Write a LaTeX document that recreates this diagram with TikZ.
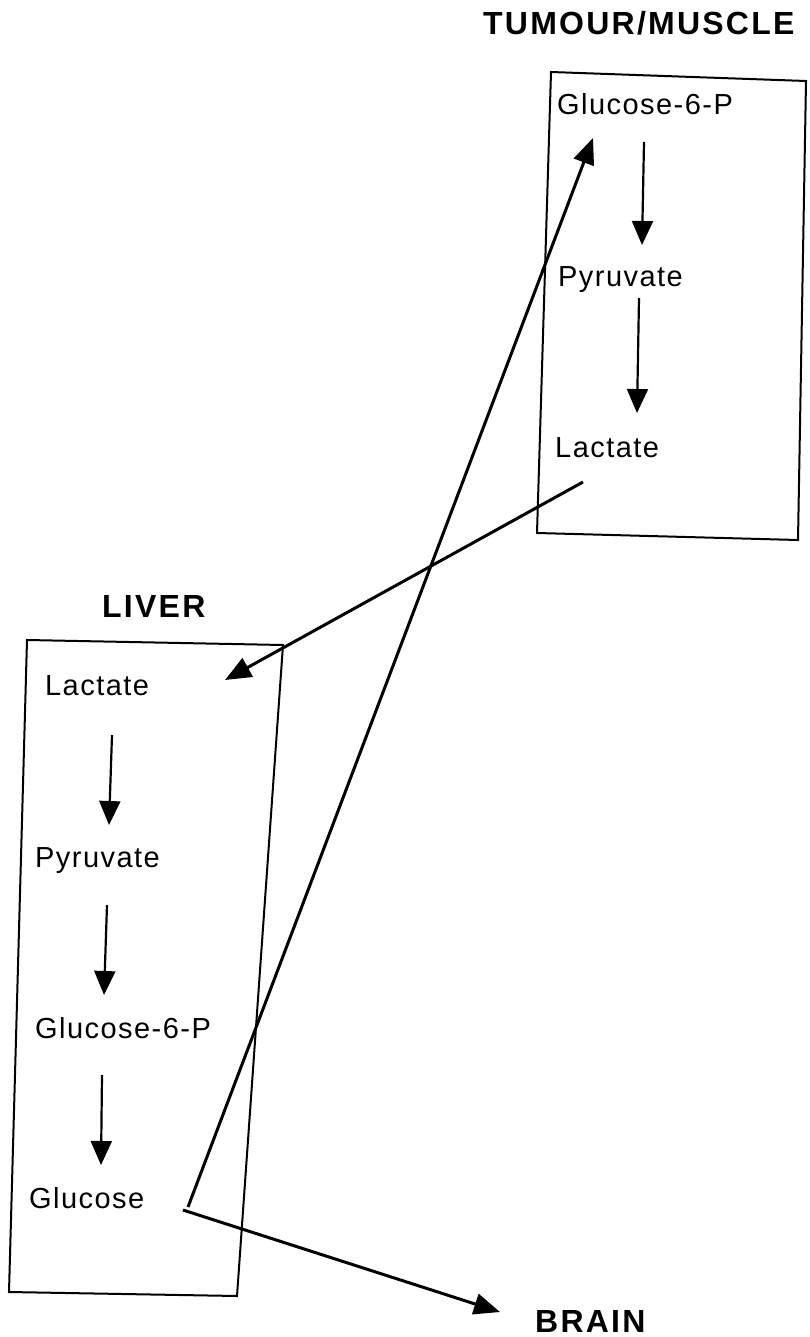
\documentclass[tikz,border=0pt]{standalone}
\usepackage{fontspec}
\setmainfont{Liberation Sans}
\newfontfamily\metabfont[LetterSpace=5]{Liberation Sans}
\newfontfamily\organfont[LetterSpace=7,BoldFont={Liberation Sans Bold}]{Liberation Sans}
\usepackage{tikz}
\usetikzlibrary{arrows.meta,positioning,calc}
\tikzset{
  metab/.style={anchor=base west, inner sep=0pt, font=\metabfont\fontsize{29}{32}\selectfont},
  organ/.style={anchor=base west, inner sep=0pt, font=\organfont\bfseries\fontsize{32}{35}\selectfont},
  conv/.style={line width=2.2pt, -{Triangle[width=21pt,length=24pt]}},
  transport/.style={line width=3pt, -{Triangle[width=21pt,length=26pt]}},
  compartment/.style={line width=2pt, line join=miter}
}

\begin{document}
\begin{tikzpicture}[x=1pt,y=-1pt]
    \useasboundingbox (0,0) rectangle (810,1337);
    % compartments
    \draw[compartment] (551,72) -- (806,81) -- (798,540) -- (537,533) -- cycle;
    \draw[compartment] (27,640) -- (283,645) -- (237,1296) -- (9,1292) -- cycle;
    % organ names
    \node[organ] (tumour) at (483,35) {TUMOUR/MUSCLE};
    \node[organ] (liver) at (102,617) {LIVER};
    \node[organ] (brain) at (535,1332) {BRAIN};
    % tumour/muscle
    \node[metab] (tg6p) at (557,115) {Glucose-6-P};
    \node[metab] (tpyr) at (558,287) {Pyruvate};
    \node[metab] (tlac) at (555,457) {Lactate};
    % liver
    \node[metab] (llac) at (45,695) {Lactate};
    \node[metab] (lpyr) at (35,867) {Pyruvate};
    \node[metab] (lg6p) at (35,1038) {Glucose-6-P};
    \node[metab] (lglc) at (29,1208) {Glucose};
    % glycolysis
    \draw[conv] ($(tg6p.base west)+(87,27)$) -- ($(tpyr.base west)+(84,-42)$);
    \draw[conv] ($(tpyr.base west)+(81,11)$) -- ($(tlac.base west)+(82,-44)$);
    % gluconeogenesis
    \draw[conv] ($(llac.base west)+(67,40)$) -- ($(lpyr.base west)+(74,-42)$);
    \draw[conv] ($(lpyr.base west)+(72,38)$) -- ($(lg6p.base west)+(69,-43)$);
    \draw[conv] ($(lg6p.base west)+(67,37)$) -- ($(lglc.base west)+(72,-43)$);
    % Cori cycle
    \draw[transport] ($(tlac.base west)+(28,25)$) -- ($(llac.base west)+(180,-15)$);
    \draw[transport] ($(lglc.base west)+(159,-1)$) -- ($(tg6p.base west)+(36,23)$);
    \draw[transport] ($(lglc.base west)+(154,2)$) -- ($(brain.base west)+(-35,-20)$);
\end{tikzpicture}
\end{document}
